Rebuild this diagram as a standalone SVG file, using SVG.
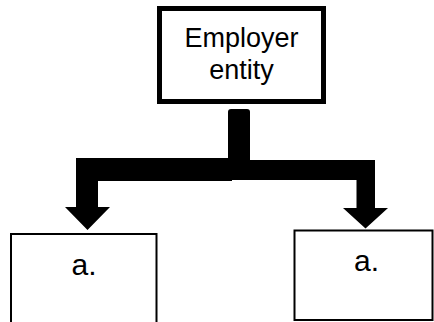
<svg xmlns="http://www.w3.org/2000/svg" width="434" height="322" viewBox="0 0 434 322">
<style>
.box{fill:#fff;stroke:#000}
.t{font-family:"Liberation Sans",Arial,sans-serif;fill:#000;text-anchor:middle}
.conn{fill:#000;stroke:none}
</style>
<rect width="434" height="322" fill="#fff"/>
<g id="connectors">
<rect class="conn" x="228" y="109" width="22" height="55" rx="3"/>
<polygon class="conn" points="76,158 232,158 232,181 98,181 98,207 110,207 87.5,230 65,207 76,207"/>
<polygon class="conn" points="232,160 375,160 375,208 388,208 365.5,228.5 343,208 356.5,208 356.5,180 232,180"/>
</g>
<g id="employer">
<rect class="box" x="159.5" y="8.5" width="164" height="93" stroke-width="5"/>
<text class="t" x="241.5" y="46.7" font-size="27">Employer</text>
<text class="t" x="241.5" y="79" font-size="27">entity</text>
</g>
<g id="child-left">
<rect class="box" x="11" y="234" width="145.5" height="100" stroke-width="2"/>
<text class="t" x="84" y="274.5" font-size="30">a.</text>
</g>
<g id="child-right">
<rect class="box" x="294.5" y="230.5" width="138" height="89.5" stroke-width="2"/>
<text class="t" x="366.5" y="271" font-size="30">a.</text>
</g>
</svg>
